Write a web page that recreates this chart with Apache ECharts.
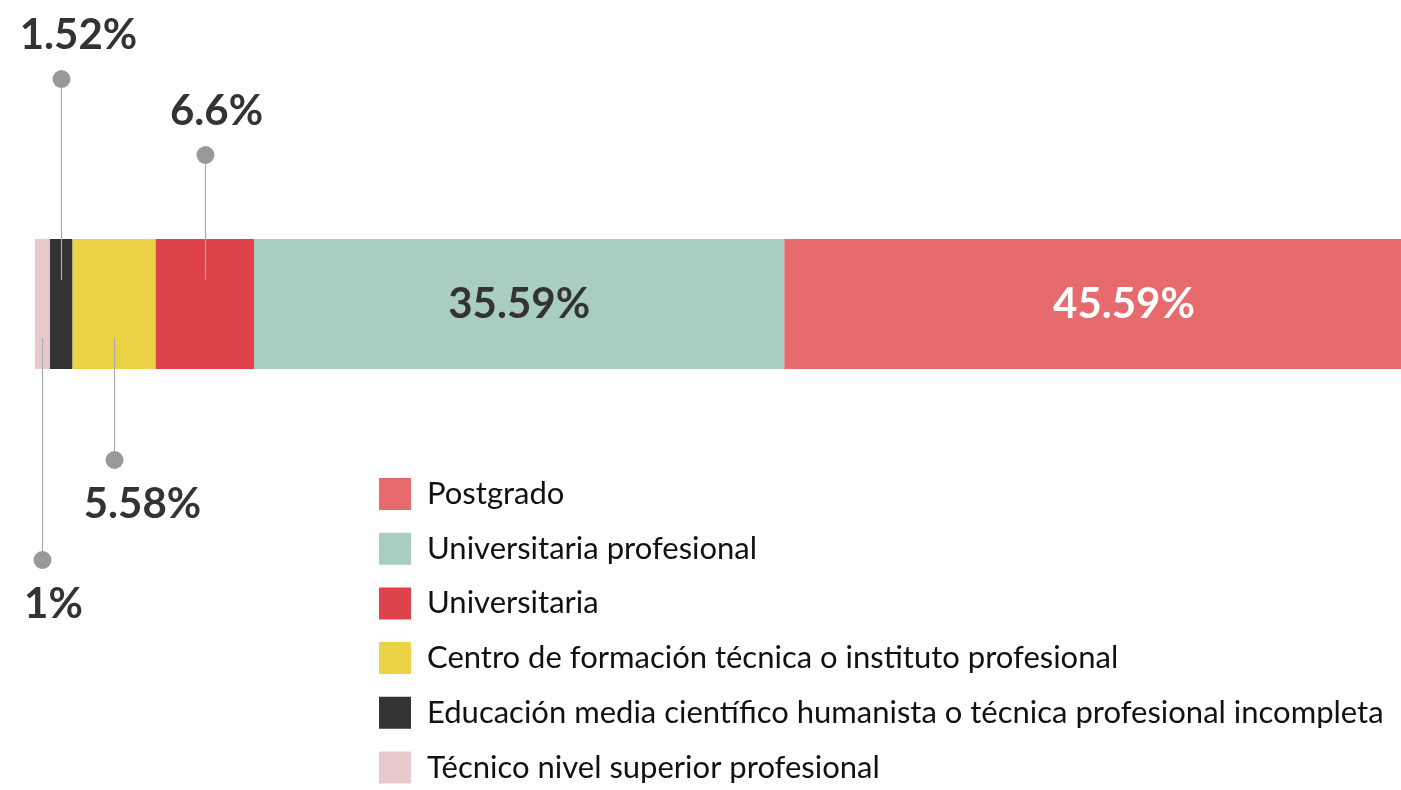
<!DOCTYPE html>
<html>
<head>
<meta charset="utf-8">
<script src="https://cdn.jsdelivr.net/npm/echarts@6/dist/echarts.min.js"></script>
<style>
  html, body { margin: 0; padding: 0; background: #fff; }
  #main { width: 1401px; height: 790px; }
</style>
</head>
<body>
<div id="main"></div>
<script>
// segmentos en orden de apilado (izquierda a derecha)
var names = [
  'Técnico nivel superior profesional',
  'Educación media científico humanista o técnica profesional incompleta',
  'Centro de formación técnica o instituto profesional',
  'Universitaria',
  'Universitaria profesional',
  'Postgrado'
];
var values = [1, 1.52, 5.58, 6.6, 35.59, 45.59];
var colors = ['#E8C9CB', '#333333', '#EBD345', '#DE434B', '#A9CDBF', '#E76A6D'];
var legendOrder = names.slice().reverse();

// etiquetas con "alfiler" para los segmentos chicos
var pinned = [0, 1, 2, 3];
var pinSide = [1, -1, 1, -1];      // 1 abajo, -1 arriba
var pinLen = [256, 225, 156, 149];  // px desde el centro de la barra
var pinDx = [11, 17, 28, 11];

var FONT = 'Lato';

var chartDom = document.getElementById('main');
var myChart = echarts.init(chartDom);

var series = names.map(function (n, i) {
  var inside = pinned.indexOf(i) < 0;
  return {
    name: n,
    type: 'bar',
    stack: 'total',
    barWidth: '100%',
    data: [values[i]],
    itemStyle: { color: colors[i] },
    label: {
      show: inside,
      position: 'inside',
      formatter: '{c}%',
      fontFamily: FONT,
      fontWeight: 'bold',
      fontSize: 42,
      color: i === 5 ? '#fff' : '#333'
    },
    emphasis: { disabled: true }
  };
});

// punto medio de cada segmento con alfiler
var pinData = pinned.map(function (idx, k) {
  var start = 0;
  for (var j = 0; j < idx; j++) start += values[j];
  return [start + values[idx] / 2, 0, k];
});

series.push({
  type: 'custom',
  name: 'pins',
  data: pinData,
  z: 10,
  silent: true,
  renderItem: function (params, api) {
    var k = api.value(2);
    var idx = pinned[k];
    var p = api.coord([api.value(0), 0]);
    var x = Math.round(p[0]) + 0.5;
    var side = pinSide[k];
    var inner = side < 0 ? -24 : 34;
    var dotY = p[1] + side * pinLen[k];
    return {
      type: 'group',
      children: [
        { type: 'line', shape: { x1: x, y1: p[1] + inner, x2: x, y2: dotY }, style: { stroke: '#aaa', lineWidth: 1.2 } },
        { type: 'circle', shape: { cx: x, cy: dotY, r: 9 }, style: { fill: '#999' } },
        {
          type: 'text', x: x + pinDx[k], y: dotY + side * 44,
          style: {
            text: values[idx] + '%',
            fontFamily: FONT, fontWeight: 'bold', fontSize: 42,
            fill: '#333', align: 'center', verticalAlign: 'middle'
          }
        }
      ]
    };
  }
});

var option = {
  animation: false,
  backgroundColor: '#fff',
  grid: { left: 35, top: 239, width: 1490, height: 130, outerBoundsMode: 'none' },
  xAxis: { type: 'value', min: 0, max: 100, show: false },
  yAxis: { type: 'category', data: ['total'], show: false },
  legend: {
    data: legendOrder,
    orient: 'vertical',
    left: 379,
    top: 478,
    padding: 0,
    itemWidth: 32,
    itemHeight: 32,
    itemGap: 22.7,
    icon: 'rect',
    selectedMode: false,
    textStyle: { fontFamily: FONT, fontSize: 31, color: '#111', padding: [0, 0, 0, 11] }
  },
  series: series
};

option && myChart.setOption(option);
</script>
</body>
</html>
